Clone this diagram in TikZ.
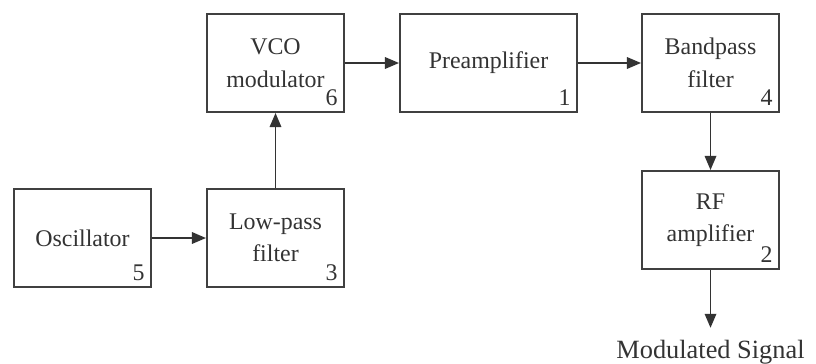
\documentclass[tikz,border=0pt]{standalone}
\usepackage{fontspec}
\setmainfont{Liberation Serif}
\usetikzlibrary{positioning, arrows.meta}

\begin{document}
\begin{tikzpicture}[
  align=center,
  font=\fontsize{13.6}{18.5}\selectfont,
  text=black!80,
  box/.style={
    draw=black!75, rectangle, line width=1.1pt,
    minimum width=2.74cm, minimum height=1.96cm,
    inner sep=0pt
  },
  widebox/.style={box, minimum width=3.54cm},
  num/.style={anchor=south east, inner sep=4pt},
  arr/.style={draw=black!80, -{Triangle[length=8pt, width=6.5pt]}, line width=1.1pt},
]
\useasboundingbox (0,0) rectangle (16.32,7.26);

%% ====================================================================
%%  TOP ROW
%% ====================================================================
\node[box] (vco) at (5.51, 6.00) {VCO\\modulator};
\node[widebox] (pre) at (9.77, 6.00) {Preamplifier};
\node[box] (bpf) at (14.21, 6.00) {Bandpass\\filter};

\node[num] (n6) at (vco.south east) {6};
\node[num] (n1) at (pre.south east) {1};
\node[num] (n4) at (bpf.south east) {4};

%% ====================================================================
%%  BOTTOM ROW
%% ====================================================================
\node[box] (osc) at (1.65, 2.50) {Oscillator};
\node[box] (lpf) at (5.51, 2.50) {Low-pass\\filter};
\node[box] (rfa) at (14.21, 2.86) {RF\\amplifier};

\node[num] (n5) at (osc.south east) {5};
\node[num] (n3) at (lpf.south east) {3};
\node[num] (n2) at (rfa.south east) {2};

\node[font=\fontsize{15}{18}\selectfont, inner xsep=2pt, inner ysep=7pt]
  (sig) at (14.21, 0.21) {Modulated Signal};

%% -- arrows --
\draw[arr] (osc) -- (lpf);
\draw[arr] (lpf) -- (vco);
\draw[arr] (vco) -- (pre);
\draw[arr] (pre) -- (bpf);
\draw[arr] (bpf) -- (rfa);
\draw[arr] (rfa) -- (sig);

\end{tikzpicture}
\end{document}
